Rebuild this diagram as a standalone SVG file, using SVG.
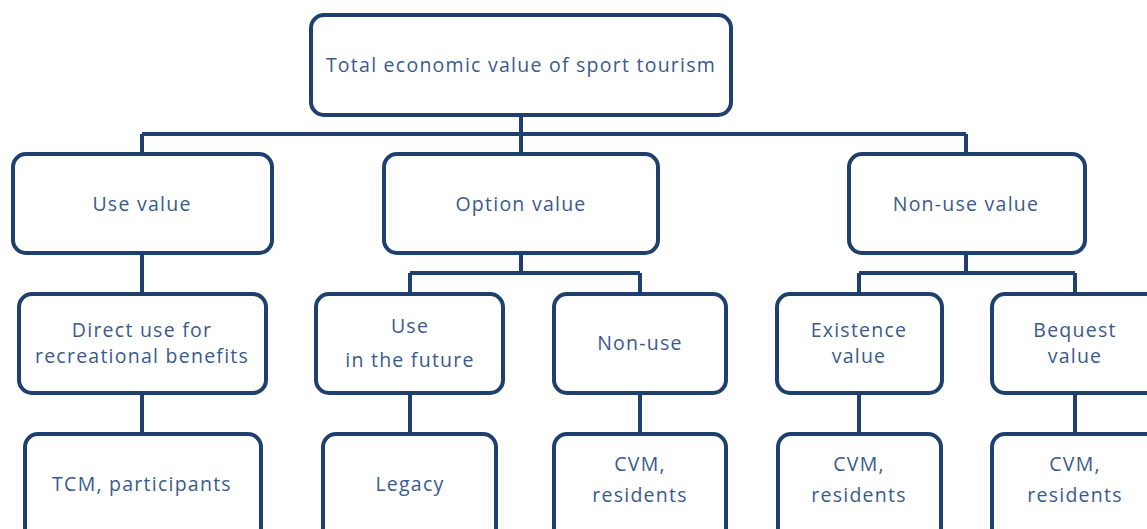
<svg xmlns="http://www.w3.org/2000/svg" width="1147" height="529" viewBox="0 0 1147 529">
<style>
.box{fill:#ffffff;stroke:#1f3f6e;stroke-width:4;}
.ln{fill:none;stroke:#1f3f6e;stroke-width:4;}
.t{font-family:"Open Sans","Liberation Sans",sans-serif;font-size:19.5px;letter-spacing:1.25px;fill:#3a5a8c;text-anchor:middle;}
</style>
<rect width="1147" height="529" fill="#ffffff"/>
<g id="connectors">
<path class="ln" d="M521 115V154M142 134H966M142 134V154M966 134V154"/>
<path class="ln" d="M142 253V294M142 393V434"/>
<path class="ln" d="M521 253V273M410 273H640M410 273V294M640 273V294M410 393V434M640 393V434"/>
<path class="ln" d="M966 253V273M859 273H1075M859 273V294M1075 273V294M859 393V434M1075 393V434"/>
</g>
<g id="total"><rect class="box" x="311" y="15" width="420" height="100" rx="13"/><text class="t" x="521" y="72">Total economic value of sport tourism</text></g>
<g id="use-value"><rect class="box" x="13" y="154" width="259" height="99" rx="13"/><text class="t" x="142" y="211">Use value</text></g>
<g id="option-value"><rect class="box" x="384" y="154" width="274" height="99" rx="13"/><text class="t" x="521" y="211">Option value</text></g>
<g id="non-use-value"><rect class="box" x="849" y="154" width="236" height="99" rx="13"/><text class="t" x="966" y="211">Non-use value</text></g>
<g id="direct-use"><rect class="box" x="19" y="294" width="247" height="99" rx="13"/><text class="t" x="142" y="337">Direct use for</text><text class="t" x="142" y="363">recreational benefits</text></g>
<g id="use-future"><rect class="box" x="316" y="294" width="187" height="99" rx="13"/><text class="t" x="410" y="333">Use</text><text class="t" x="410" y="367">in the future</text></g>
<g id="non-use"><rect class="box" x="554" y="294" width="172" height="99" rx="13"/><text class="t" x="640" y="350">Non-use</text></g>
<g id="existence"><rect class="box" x="777" y="294" width="165" height="99" rx="13"/><text class="t" x="859" y="337">Existence</text><text class="t" x="859" y="363">value</text></g>
<g id="bequest"><rect class="box" x="992" y="294" width="175" height="99" rx="13"/><text class="t" x="1075" y="337">Bequest</text><text class="t" x="1075" y="363">value</text></g>
<g id="tcm"><rect class="box" x="25" y="434" width="236" height="110" rx="13"/><text class="t" x="142" y="491">TCM, participants</text></g>
<g id="legacy"><rect class="box" x="323" y="434" width="173" height="110" rx="13"/><text class="t" x="410" y="491">Legacy</text></g>
<g id="cvm1"><rect class="box" x="554" y="434" width="172" height="110" rx="13"/><text class="t" x="640" y="471">CVM,</text><text class="t" x="640" y="502">residents</text></g>
<g id="cvm2"><rect class="box" x="778" y="434" width="163" height="110" rx="13"/><text class="t" x="859" y="471">CVM,</text><text class="t" x="859" y="502">residents</text></g>
<g id="cvm3"><rect class="box" x="992" y="434" width="175" height="110" rx="13"/><text class="t" x="1075" y="471">CVM,</text><text class="t" x="1075" y="502">residents</text></g>
</svg>
